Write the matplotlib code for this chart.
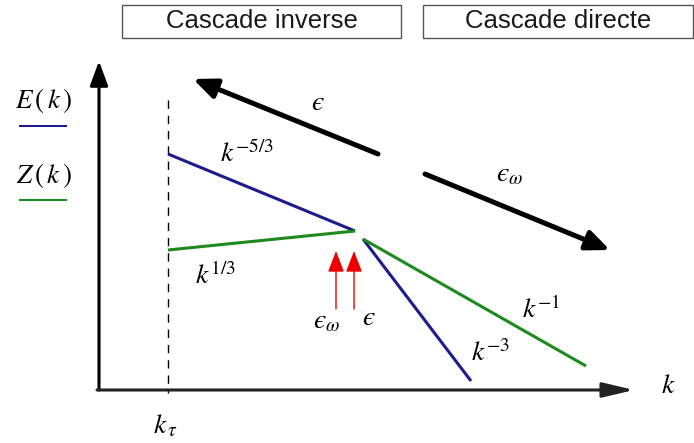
import matplotlib
matplotlib.use("Agg")
import matplotlib.pyplot as plt
from matplotlib.patches import Rectangle

plt.rcParams['mathtext.fontset'] = 'stix'

# Schematic coordinates (pixel-like units, y downward)
blue_inverse_x = [168, 355]
blue_inverse_y = [154, 231]
green_inverse_x = [168, 355]
green_inverse_y = [250, 231]
blue_direct_x = [363, 471]
blue_direct_y = [239, 381]
green_direct_x = [363, 586]
green_direct_y = [239, 366]

box_labels = ["Cascade inverse", "Cascade directe"]
box_left = [122, 423]
box_right = [401, 693]

flux_arrows = [((378, 154), (193, 79)), ((425, 174), (610, 250))]
EPS = "\u03f5"
flux_labels = ["$" + EPS + "$", "$" + EPS + r"_{\omega}$"]
inject_x = [336, 354]
inject_labels = ["$" + EPS + r"_{\omega}$", "$" + EPS + "$"]

fig = plt.figure(figsize=(6.94, 4.43), dpi=100)
ax = fig.add_axes([0, 0, 1, 1])
ax.set_xlim(0, 694)
ax.set_ylim(443, 0)
ax.axis('off')

# header boxes
for lab, l, r in zip(box_labels, box_left, box_right):
    ax.add_patch(Rectangle((l, 4.5), r - l, 33.5, fill=False, ec='#555555', lw=1.0))
    ax.text((l + r) / 2, 21, lab, ha='center', va='center', fontsize=18.5,
            family='Liberation Sans', color='#1a1a1a')

# axes
ax.annotate('', xy=(99, 61), xytext=(99, 390),
            arrowprops=dict(arrowstyle='-|>,head_length=1.5,head_width=0.55', lw=2.2, color='black',
                            shrinkA=0, shrinkB=0))
ax.annotate('', xy=(634, 390), xytext=(97, 390),
            arrowprops=dict(arrowstyle='-|>,head_length=1.9,head_width=0.45', lw=2.2, color='#222222',
                            shrinkA=0, shrinkB=0))

# dashed line
ax.plot([168, 168], [100, 393], ls=(0, (6, 5)), color='black', lw=1.0)

# spectra
blue = '#1c1c8c'
green = '#1e8a1e'
ax.plot(blue_inverse_x, blue_inverse_y, color=blue, lw=2.2, solid_capstyle='butt')
ax.plot(green_inverse_x, green_inverse_y, color=green, lw=2.2, solid_capstyle='butt')
ax.plot(blue_direct_x, blue_direct_y, color=blue, lw=2.2, solid_capstyle='butt')
ax.plot(green_direct_x, green_direct_y, color=green, lw=2.2, solid_capstyle='butt')

# flux arrows
for (start, end) in flux_arrows:
    ax.annotate('', xy=end, xytext=start,
                arrowprops=dict(arrowstyle='-|>,head_length=1.4,head_width=0.6', lw=3.6, color='black',
                                shrinkA=0, shrinkB=0))

# injection arrows
for x in inject_x:
    ax.annotate('', xy=(x, 251), xytext=(x, 309),
                arrowprops=dict(arrowstyle='-|>,head_length=1.3,head_width=0.5', lw=1.0, color='#ee0000',
                                shrinkA=0, shrinkB=0))

# labels
ax.text(44, 100, r"$E\,(\,k\,)$", fontsize=19.5, ha='center', va='center')
ax.plot([20, 66], [126, 126], color=blue, lw=1.5)
ax.text(44, 175, r"$Z\,(\,k\,)$", fontsize=19.5, ha='center', va='center')
ax.plot([20, 66], [200, 200], color=green, lw=1.5)

ax.text(220, 162, r"$k^{-5/3}$", fontsize=20, ha='left', va='baseline')
ax.text(195, 284, r"$k^{1/3}$", fontsize=20, ha='left', va='baseline')
ax.text(318, 110, flux_labels[0], fontsize=20, ha='center', va='baseline')
ax.text(510, 181, flux_labels[1], fontsize=20, ha='center', va='baseline')
ax.text(327, 328, inject_labels[0], fontsize=20, ha='center', va='baseline')
ax.text(369, 325, inject_labels[1], fontsize=20, ha='center', va='baseline')
ax.text(522, 318, r"$k^{-1}$", fontsize=20, ha='left', va='baseline')
ax.text(471, 361, r"$k^{-3}$", fontsize=20, ha='left', va='baseline')
ax.text(668, 393, r"$k$", fontsize=20, ha='center', va='baseline')
ax.text(165, 433, r"$k_{\,\tau}$", fontsize=20, ha='center', va='baseline')

fig.savefig('out.png', dpi=100)
